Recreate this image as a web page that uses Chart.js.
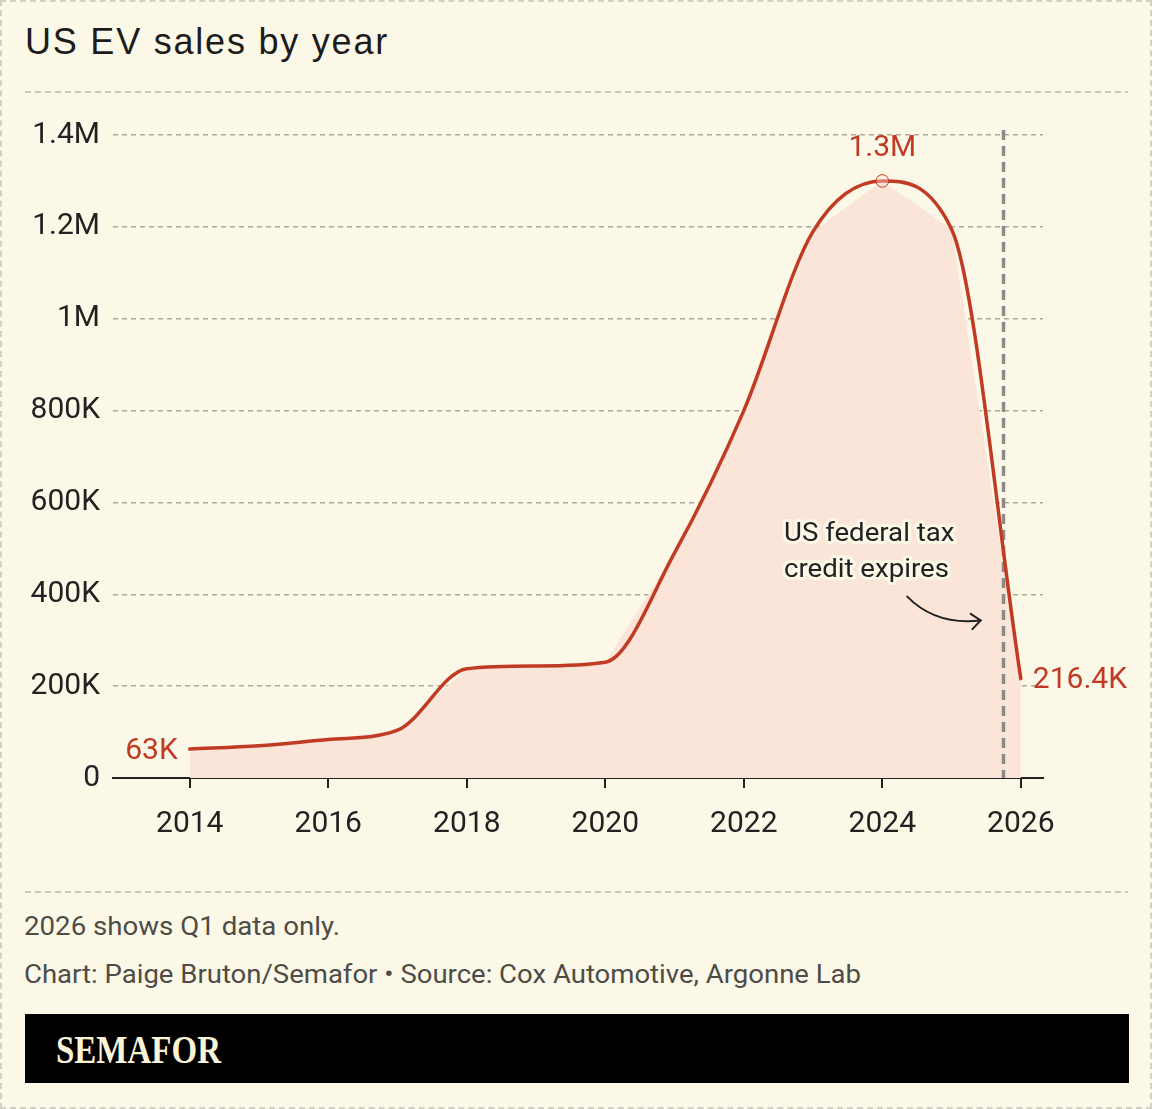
<!DOCTYPE html>
<html>
<head>
<meta charset="utf-8">
<script src="https://cdn.jsdelivr.net/npm/chart.js@4.4.1/dist/chart.umd.min.js"></script>
<style>
  html, body { margin:0; padding:0; }
  body { width:1152px; height:1109px; background:#fcf8e7; position:relative; overflow:hidden; font-family: Roboto, sans-serif; }
  #border { position:absolute; left:0; top:0; width:1148px; height:1105px; border:2px dashed #d3d0c5; }
  .sep { position:absolute; left:25px; width:1103px; height:2px; background: repeating-linear-gradient(to right, #c9c6bb 0 6px, transparent 6px 10px); }
  #title { position:absolute; left:25px; top:23.5px; font-family:"Liberation Sans", Arial, sans-serif; font-size:36px; line-height:36px; color:#1c1c1c; white-space:nowrap; }
  #chartBox { position:absolute; left:0; top:100px; width:1152px; height:760px; }
  .note { position:absolute; left:24px; font-family:Roboto, sans-serif; font-size:26px; line-height:26px; color:#4e4c47; white-space:nowrap; transform-origin:0 0; }
  #brand { position:absolute; left:25px; top:1014px; width:1104px; height:69px; background:#000; }
  #logo { position:absolute; left:30.7px; top:15.6px; font-family:"Liberation Serif", serif; font-weight:bold; font-size:39px; line-height:39px; color:#fbf3d6; white-space:nowrap; transform-origin:0 0; }
</style>
</head>
<body>
<div id="border"></div>
<div id="title">US EV sales by year</div>
<div class="sep" style="top:91px"></div>
<div id="chartBox"><canvas id="c" width="1152" height="760"></canvas></div>
<div class="sep" style="top:891px"></div>
<div class="note" id="n1" style="top:913px">2026 shows Q1 data only.</div>
<div class="note" id="n2" style="top:961.4px">Chart: Paige Bruton/Semafor • Source: Cox Automotive, Argonne Lab</div>
<div id="brand"><div id="logo">SEMAFOR</div></div>
<script>
// ---- data ----
const years = [2014, 2015, 2016, 2017, 2018, 2019, 2020, 2021, 2022, 2023, 2024, 2025, 2026];
const sales = [63000, 70000, 84000, 104000, 238000, 244000, 252000, 490000, 800000, 1190000, 1300000, 1195000, 216400];
const xTickYears = [2014, 2016, 2018, 2020, 2022, 2024, 2026];
const yTickValues = [0, 200000, 400000, 600000, 800000, 1000000, 1200000, 1400000];
const pointLabels = ['63K', '1.3M', '216.4K'];
const pointLabelIdx = [0, 10, 12];
const creditExpiry = 2025.75;
const noteLines = ['US federal tax', 'credit expires'];
const noteAnchor = { x: 2022.58, y: 517000 };
const arrowStart = { x: 2024.36, y: 395000 };
const arrowCtrl = { x: 2024.77, y: 332000 };
const arrowEnd = { x: 2025.42, y: 343000 };

const RED = '#c13a24';
const BG = '#fcf8e7';

function fmtY(v) {
  if (v === 0) return '0';
  if (v >= 1000000) return (v / 1000000).toString() + 'M';
  return (v / 1000).toString() + 'K';
}

function fitScale(el, target) {
  el.style.transform = 'none';
  const w = el.getBoundingClientRect().width;
  el.style.transform = 'scaleX(' + (target / w) + ')';
}
function fitSpacing(el, target) {
  const w = el.getBoundingClientRect().width;
  const n = el.textContent.length;
  el.style.letterSpacing = ((target - w) / n) + 'px';
}

const overlay = {
  id: 'overlay',
  afterDatasetDraw(chart, args) {
    if (args.index !== 0) return;
    const { ctx, chartArea, scales: { x, y } } = chart;
    const vx = x.getPixelForValue(creditExpiry);
    ctx.save();
    ctx.strokeStyle = '#8c8b88';
    ctx.lineWidth = 3.5;
    ctx.setLineDash([10, 6]);
    ctx.beginPath();
    ctx.moveTo(vx, chartArea.top - 5);
    ctx.lineTo(vx, chartArea.bottom);
    ctx.stroke();
    ctx.restore();

    // note text
    ctx.save();
    ctx.font = '26px Roboto';
    const w0 = ctx.measureText(noteLines[0]).width;
    const sx = 170.5 / w0;
    const tx = x.getPixelForValue(noteAnchor.x);
    const ty = y.getPixelForValue(noteAnchor.y);
    noteLines.forEach((t, i) => {
      ctx.save();
      ctx.translate(tx, ty + i * 36.7);
      ctx.scale(sx, 1);
      ctx.lineJoin = 'round';
      ctx.lineWidth = 6;
      ctx.strokeStyle = BG;
      ctx.textBaseline = 'alphabetic';
      ctx.textAlign = 'left';
      ctx.strokeText(t, 0, 0);
      ctx.fillStyle = '#222';
      ctx.fillText(t, 0, 0);
      ctx.restore();
    });
    ctx.restore();

    // arrow
    const p0 = { x: x.getPixelForValue(arrowStart.x), y: y.getPixelForValue(arrowStart.y) };
    const pc = { x: x.getPixelForValue(arrowCtrl.x), y: y.getPixelForValue(arrowCtrl.y) };
    const p1 = { x: x.getPixelForValue(arrowEnd.x), y: y.getPixelForValue(arrowEnd.y) };
    ctx.save();
    ctx.strokeStyle = '#222';
    ctx.lineWidth = 2;
    ctx.lineCap = 'round';
    ctx.beginPath();
    ctx.moveTo(p0.x, p0.y);
    ctx.quadraticCurveTo(pc.x, pc.y, p1.x, p1.y);
    ctx.stroke();
    const ang = Math.atan2(p1.y - pc.y, p1.x - pc.x);
    const L = 12, a = 0.7;
    ctx.beginPath();
    ctx.moveTo(p1.x - L * Math.cos(ang - a), p1.y - L * Math.sin(ang - a));
    ctx.lineTo(p1.x, p1.y);
    ctx.lineTo(p1.x - L * Math.cos(ang + a), p1.y - L * Math.sin(ang + a));
    ctx.stroke();
    ctx.restore();
  },
  afterDatasetsDraw(chart) {
    const { ctx, scales: { x, y } } = chart;
    ctx.save();
    // peak circle
    const pk = pointLabelIdx[1];
    const cx = x.getPixelForValue(years[pk]);
    const cy = y.getPixelForValue(sales[pk]);
    ctx.beginPath();
    ctx.arc(cx, cy, 6.3, 0, Math.PI * 2);
    ctx.fillStyle = 'rgba(251,228,216,0.4)';
    ctx.fill();
    ctx.strokeStyle = RED;
    ctx.lineWidth = 1;
    ctx.stroke();

    ctx.font = '30px Roboto';
    ctx.fillStyle = RED;
    ctx.textBaseline = 'alphabetic';
    pointLabelIdx.forEach((idx, k) => {
      const px = x.getPixelForValue(years[idx]);
      const py = y.getPixelForValue(sales[idx]);
      const t = pointLabels[k];
      if (k === 0) { ctx.textAlign = 'right'; ctx.fillText(t, px - 12, py + 10); }
      else if (k === 1) { ctx.textAlign = 'center'; ctx.fillText(t, px, py - 25); }
      else { ctx.textAlign = 'left'; ctx.fillText(t, px + 12, py + 9.5); }
    });
    ctx.restore();
  }
};

function build() {
  fitSpacing(document.getElementById('title'), 364);
  fitScale(document.getElementById('n1'), 316);
  fitScale(document.getElementById('n2'), 837);
  fitScale(document.getElementById('logo'), 165);

  const pts = years.map((yr, i) => ({ x: yr, y: sales[i] }));
  new Chart(document.getElementById('c'), {
    type: 'line',
    data: {
      datasets: [
        { label: 'area', data: pts, borderWidth: 0, backgroundColor: '#fbe4d8', fill: 'origin', tension: 0, pointRadius: 0, order: 2 },
        { label: 'sales', data: pts, borderColor: RED, borderWidth: 3.5, fill: false, cubicInterpolationMode: 'monotone', pointRadius: 0, order: 1, borderCapStyle: 'round' }
      ]
    },
    options: {
      responsive: false,
      animation: false,
      devicePixelRatio: 1,
      layout: { padding: { left: 0, right: 109, top: 35, bottom: 0 } },
      plugins: { legend: { display: false }, tooltip: { enabled: false } },
      scales: {
        x: {
          type: 'linear', min: 2012.892, max: 2026.32,
          afterBuildTicks: s => { s.ticks = xTickYears.map(v => ({ value: v })); },
          afterFit: s => { s.height = 82; },
          grid: { drawOnChartArea: false, drawTicks: true, tickLength: 10, color: '#222', lineWidth: 2 },
          border: { display: true, color: '#222', width: 2 },
          ticks: { color: '#222', font: { family: 'Roboto', size: 30 }, padding: 18, maxRotation: 0, autoSkip: false, callback: v => String(v) }
        },
        y: {
          min: 0, max: 1400000,
          afterBuildTicks: s => { s.ticks = yTickValues.map(v => ({ value: v })); },
          afterFit: s => { s.width = 113; },
          grid: { color: '#aca99f', lineWidth: 1.5, drawTicks: false },
          border: { display: false, dash: [5, 4] },
          ticks: { color: '#222', font: { family: 'Roboto', size: 30 }, padding: 13, callback: v => fmtY(v) }
        }
      }
    },
    plugins: [overlay]
  });
}

Promise.all([
  document.fonts.load('30px Roboto'),
  document.fonts.load('36px "Liberation Sans"'),
  document.fonts.load('bold 39px "Liberation Serif"')
]).then(build, build);
</script>
</body>
</html>
